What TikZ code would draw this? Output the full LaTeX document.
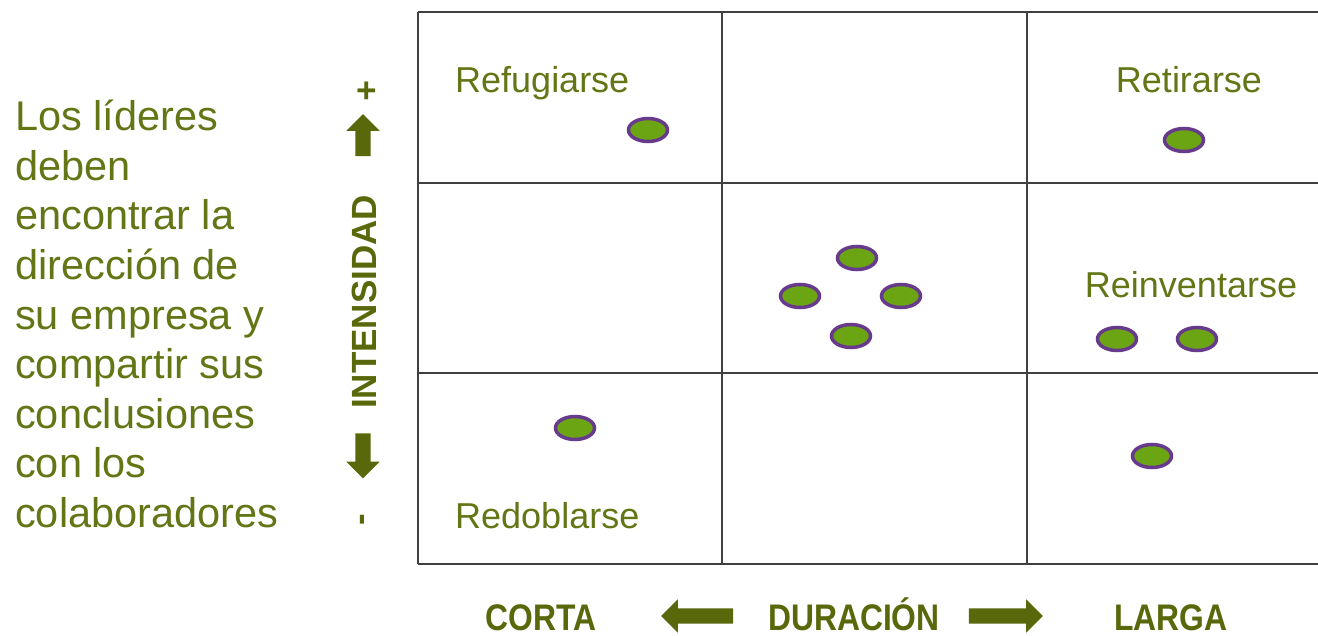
\documentclass[tikz,border=0pt]{standalone}
\usepackage{fontspec}
\setmainfont{Liberation Sans}
\newfontfamily\condbf{Liberation Sans}[FakeStretch=0.86]
\usetikzlibrary{shapes.geometric,shapes.arrows}
\definecolor{olivetxt}{RGB}{98,118,22}
\definecolor{olivearr}{RGB}{88,104,10}
\definecolor{dotfill}{RGB}{108,165,20}
\definecolor{dotline}{RGB}{104,58,140}
\begin{document}
\begin{tikzpicture}[x=1pt,y=-1pt,
    dot/.style={draw=dotline, fill=dotfill, ellipse, line width=3.5pt, inner sep=0pt, minimum width=39pt, minimum height=23pt},
    zone/.style={text=olivetxt, font=\fontsize{36}{36}\selectfont, inner sep=0pt},
    axis/.style={text=olivearr, font=\bfseries\fontsize{35}{35}\selectfont, inner sep=0pt},
    duo/.style={text=olivearr, font=\condbf\bfseries\fontsize{37}{37}\selectfont, inner sep=0pt, anchor=base},
    fat/.style={single arrow, fill=olivearr, draw=none, inner sep=7.5pt, single arrow head extend=9pt, minimum height=#1}]
  \useasboundingbox (0,0) rectangle (1318,636);
  % grid
  \foreach \y in {12,183,373,564}
    \draw [line width=1.4pt, black!75] (418,\y) -- (1318,\y);
  \foreach \x in {418,722,1027}
    \draw [line width=1.4pt, black!75] (\x,12) -- (\x,564);
  % left text
  \node [text=olivetxt, anchor=north west, inner sep=0pt, align=left,
         font=\fontsize{41.5}{49.6}\selectfont] (lead) at (15,100)
    {Los líderes\\deben\\encontrar la\\dirección de\\su empresa y\\compartir sus\\conclusiones\\con los\\colaboradores};
  % zones
  \node [zone, anchor=base west] (refu) at (455,93) {Refugiarse};
  \node [zone, anchor=base] (reti) at (1189,93) {Retirarse};
  \node [zone, anchor=base] (rein) at (1191,298) {Reinventarse};
  \node [zone, anchor=base west] (redo) at (455,528) {Redoblarse};
  % dots
  \node [dot] (d1) at (648,130) {};
  \node [dot] (d2) at (1184,140) {};
  \node [dot] (d3) at (857,258) {};
  \node [dot] (d4) at (800,296) {};
  \node [dot] (d5) at (901,296) {};
  \node [dot] (d6) at (851,336) {};
  \node [dot] (d7) at (1117,339) {};
  \node [dot] (d8) at (1197,339) {};
  \node [dot] (d9) at (575,428) {};
  \node [dot] (d10) at (1152,456) {};
  % vertical axis
  \node [axis] (plus) at (367,92) {+};
  \node [fat=42pt, rotate=90] (up) at (363,139) {};
  \node [axis, rotate=90] (inten) at (364,302) {INTENSIDAD};
  \node [fat=45pt, rotate=-90] (down) at (363,452) {};
  \node [axis, rotate=90] (minus) at (366,520) {-};
  % horizontal axis
  \node [duo] (corta) at (541,630) {CORTA};
  \node [fat=72pt, rotate=180] (left) at (701,616) {};
  \node [duo] (dura) at (854,630) {DURACIÓN};
  \node [fat=74pt] (right) at (1002,616) {};
  \node [duo] (larga) at (1171,630) {LARGA};
\end{tikzpicture}
\end{document}
